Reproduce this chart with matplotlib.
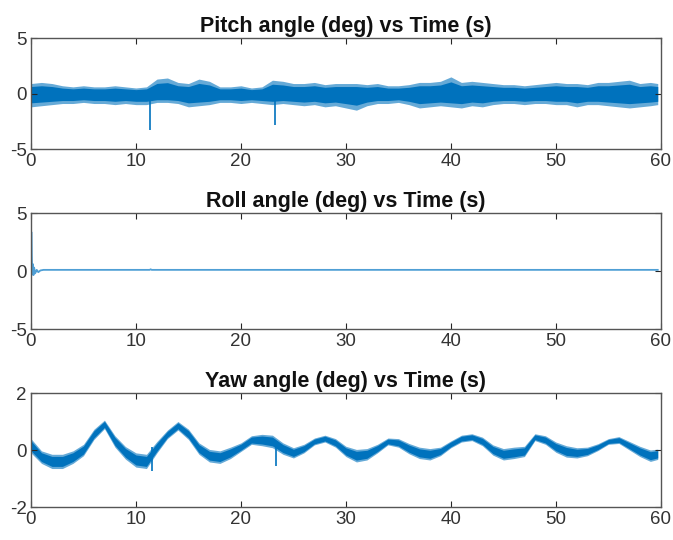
import numpy as np
import matplotlib.pyplot as plt

plt.rcParams['font.family'] = ['Liberation Sans', 'DejaVu Sans']
plt.rcParams['axes.unicode_minus'] = False

# time grid of the read-off samples (s)
t = [float(i) for i in range(60)] + [59.7]

# pitch: upper / lower edge of the noise band (deg)
pitch_hi = [0.9, 1.0, 0.9, 0.7, 0.6, 0.7, 0.6, 0.6, 0.7, 0.6,
            0.5, 0.6, 1.3, 1.4, 1.0, 0.9, 1.3, 1.1, 0.6, 0.6,
            0.7, 0.5, 0.6, 1.2, 1.1, 0.9, 0.9, 1.0, 0.8, 0.9,
            0.9, 0.9, 0.8, 0.9, 0.7, 0.7, 0.8, 1.0, 1.0, 1.1,
            1.5, 1.0, 1.1, 1.0, 0.9, 0.8, 0.8, 0.7, 0.8, 0.9,
            1.0, 0.9, 0.9, 0.8, 1.0, 1.0, 1.1, 1.2, 0.9, 1.0, 0.9]
pitch_lo = [-1.2, -1.1, -1.0, -0.9, -0.9, -0.8, -0.9, -0.9, -1.0, -0.9,
            -1.0, -1.0, -0.8, -0.8, -0.9, -1.2, -1.1, -1.0, -0.8, -0.8,
            -0.9, -0.8, -0.9, -1.0, -0.9, -1.0, -1.1, -1.0, -1.2, -1.1,
            -1.3, -1.5, -1.1, -0.9, -0.9, -0.8, -1.0, -1.3, -1.2, -1.1,
            -1.2, -1.3, -1.1, -1.2, -1.0, -0.9, -0.9, -1.0, -0.9, -0.9,
            -1.0, -1.0, -1.2, -1.0, -1.0, -1.1, -1.2, -1.3, -1.2, -1.1, -1.0]
pitch_spike_t = [11.3, 23.2]
pitch_spike_min = [-3.3, -2.8]

# roll: initial transient then flat
roll_t = [0.06, 0.08, 0.12, 0.18, 0.24, 0.3, 0.4, 0.55, 0.7, 0.9, 1.2, 2.0, 11.3, 11.4, 11.5, 30.0, 59.7]
roll_v = [3.3, 1.4, -0.3, 0.6, -0.35, 0.3, -0.2, 0.1, -0.1, 0.05, 0.1, 0.1, 0.1, 0.15, 0.1, 0.1, 0.1]

# yaw: centre of the band and half its width (deg)
yaw_mid = [0.15, -0.25, -0.4, -0.4, -0.25, 0.0, 0.55, 0.9, 0.3, -0.1,
           -0.35, -0.4, 0.1, 0.55, 0.85, 0.55, 0.05, -0.2, -0.25, -0.1,
           0.1, 0.35, 0.35, 0.3, 0.05, -0.1, 0.05, 0.3, 0.4, 0.25,
           -0.05, -0.2, -0.15, 0.05, 0.3, 0.25, 0.05, -0.1, -0.15, -0.05,
           0.2, 0.4, 0.45, 0.3, 0.0, -0.15, -0.1, -0.05, 0.45, 0.35,
           0.1, -0.05, -0.1, -0.05, 0.1, 0.3, 0.35, 0.15, -0.05, -0.2, -0.15]
yaw_half = [0.25, 0.22, 0.25, 0.25, 0.22, 0.2, 0.18, 0.15, 0.2, 0.22,
            0.25, 0.25, 0.2, 0.15, 0.15, 0.18, 0.2, 0.22, 0.22, 0.2,
            0.15, 0.15, 0.2, 0.22, 0.2, 0.18, 0.15, 0.12, 0.12, 0.15,
            0.18, 0.22, 0.2, 0.15, 0.12, 0.15, 0.18, 0.2, 0.2, 0.15,
            0.12, 0.12, 0.12, 0.15, 0.18, 0.2, 0.2, 0.18, 0.12, 0.15,
            0.18, 0.2, 0.18, 0.15, 0.12, 0.1, 0.12, 0.15, 0.18, 0.2, 0.18]
yaw_spike_t = [11.5, 23.3]
yaw_spike_min = [-0.75, -0.55]

blue = '#0072BD'
axcol = '#262626'

fig = plt.figure(figsize=(6.73, 5.4), dpi=100)
rects = [[0.046, 0.724, 0.936, 0.2056],
         [0.046, 0.3907, 0.936, 0.2148],
         [0.046, 0.0611, 0.936, 0.2111]]
axes = [fig.add_axes(r) for r in rects]

tt = np.array(t)
title_kw = dict(fontweight='bold', fontsize=15.5, pad=4, color='#111111')

ax = axes[0]
ph = np.array(pitch_hi)
pl = np.array(pitch_lo)
# faint outer fringe, solid core
ax.fill_between(tt, pl, ph, color=blue, alpha=0.6, lw=0)
ax.fill_between(tt, 0.7 * pl, 0.7 * ph, color=blue, lw=0)
ax.vlines(pitch_spike_t, 0, pitch_spike_min, color=blue, lw=1.2)
ax.set_ylim(-5, 5)
ax.set_yticks([-5, 0, 5])
ax.set_title('Pitch angle (deg) vs Time (s)', **title_kw)

ax = axes[1]
ax.plot(roll_t, roll_v, color='#4F9FD5', lw=1.3)
ax.set_ylim(-5, 5)
ax.set_yticks([-5, 0, 5])
ax.set_title('Roll angle (deg) vs Time (s)', **title_kw)

ax = axes[2]
ym = np.array(yaw_mid)
yh = np.array(yaw_half)
ax.fill_between(tt, ym - yh, ym + yh, color=blue, alpha=0.6, lw=0)
ax.fill_between(tt, ym - 0.7 * yh, ym + 0.7 * yh, color=blue, lw=0)
ax.vlines(yaw_spike_t, 0.1, yaw_spike_min, color=blue, lw=1.2)
ax.set_ylim(-2, 2)
ax.set_yticks([-2, 0, 2])
ax.set_title('Yaw angle (deg) vs Time (s)', **title_kw)

for ax in axes:
    ax.set_xlim(0, 60)
    ax.set_xticks(range(0, 61, 10))
    ax.tick_params(direction='in', top=True, right=True, length=4,
                   labelsize=13.5, colors=axcol, labelcolor='#333333', pad=3)
    for s in ax.spines.values():
        s.set_color('#555555')
        s.set_linewidth(1.0)

plt.savefig('out.png', dpi=100)
